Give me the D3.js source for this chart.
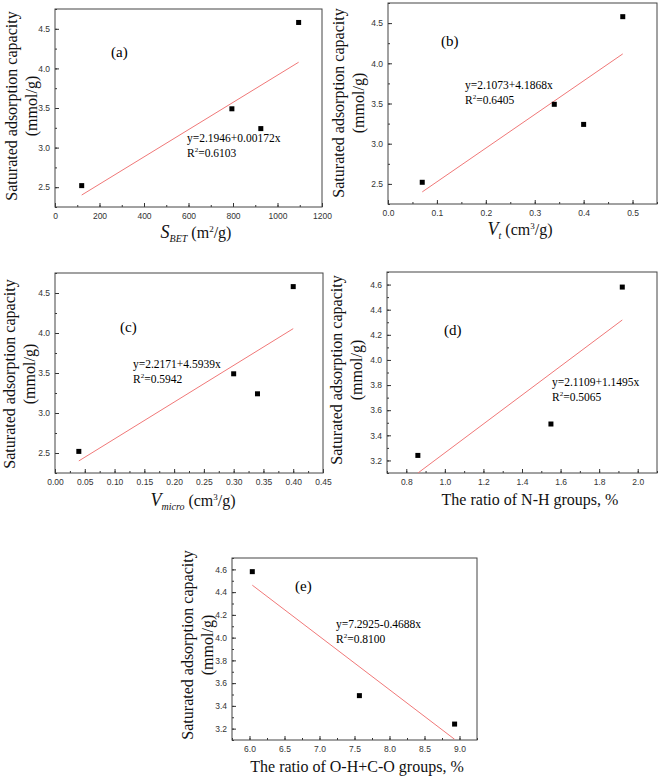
<!DOCTYPE html>
<html><head><meta charset="utf-8">
<script src="https://cdn.jsdelivr.net/npm/d3@7"></script>
<style>body{margin:0;background:#fff}svg{display:block}
.serif{font-family:"Liberation Serif","DejaVu Serif",serif}
.sans{font-family:"Liberation Sans","DejaVu Sans",sans-serif}</style>
</head><body>
<script>
// ---- data ----
const adsorption = [2.52, 3.49, 3.24, 4.58];           // saturated adsorption capacity (mmol/g)
const sBET = [120, 795, 925, 1095];                   // m2/g
const vTotal = [0.07, 0.34, 0.40, 0.48];               // cm3/g
const vMicro = [0.04, 0.30, 0.34, 0.40];               // cm3/g
const adsorptionNH = [3.24, 3.49, 4.58];
const ratioNH = [0.86, 1.55, 1.92];                    // %
const adsorptionOH = [4.58, 3.49, 3.24];
const ratioOHCO = [6.04, 7.57, 8.93];                  // %
const fitA = [2.1946, 0.00172], fitB = [2.1073, 4.1868], fitC = [2.2171, 4.5939], fitD = [2.1109, 1.1495], fitE = [7.2925, -0.4688];
const eqA = ["y=2.1946+0.00172x", "0.6103"], eqB = ["y=2.1073+4.1868x", "0.6405"], eqC = ["y=2.2171+4.5939x", "0.5942"],
      eqD = ["y=2.1109+1.1495x", "0.5065"], eqE = ["y=7.2925-0.4688x", "0.8100"];
const ticksXA = [0,200,400,600,800,1000,1200], ticksXB = [0.0,0.1,0.2,0.3,0.4,0.5],
      ticksXC = [0.00,0.05,0.10,0.15,0.20,0.25,0.30,0.35,0.40,0.45], ticksXD = [0.8,1.0,1.2,1.4,1.6,1.8,2.0],
      ticksXE = [6.0,6.5,7.0,7.5,8.0,8.5,9.0];
const ticksYABC = [2.5,3.0,3.5,4.0,4.5], ticksYDE = [3.2,3.4,3.6,3.8,4.0,4.2,4.4,4.6];

const W = 661, H = 777;
const svg = d3.select("body").append("svg").attr("width", W).attr("height", H);

function panel(c, idx) {
  const x = d3.scaleLinear().domain(c.xd).range([c.l, c.r]);
  const y = d3.scaleLinear().domain(c.yd).range([c.b, c.t]);
  const g = svg.append("g");
  const cid = "clip" + idx;
  svg.append("clipPath").attr("id", cid).append("rect")
    .attr("x", c.l).attr("y", c.t).attr("width", c.r - c.l).attr("height", c.b - c.t);

  const xMinor = d3.range(c.xd[0], c.xd[1] + 1e-9, c.xm).filter(v => v >= c.xd[0] && v <= c.xd[1]);
  const yMinor = d3.range(Math.ceil(c.yd[0] / c.ym - 1e-9) * c.ym, c.yd[1] + 1e-9, c.ym);
  const xAxis = d3.axisBottom(x).tickValues(c.xt).tickFormat(d3.format(c.xf)).tickSize(-4).tickPadding(9);
  const yAxis = d3.axisLeft(y).tickValues(c.yt).tickFormat(d3.format(c.yf)).tickSize(-4).tickPadding(5);
  const gx = g.append("g").attr("transform", `translate(0,${c.b})`).call(xAxis);
  const gy = g.append("g").attr("transform", `translate(${c.l},0)`).call(yAxis);
  [gx, gy].forEach(a => {
    a.attr("font-family", null).attr("font-size", null);
    a.select(".domain").remove();
    a.selectAll("line").attr("stroke", "#333");
    a.selectAll("text").attr("class", "sans").attr("font-size", 8.5).attr("fill", "#333");
  });
  gx.selectAll("text").attr("dy", "0.4em");
  g.append("g").attr("transform", `translate(0,${c.b})`)
    .call(d3.axisBottom(x).tickValues(xMinor).tickFormat("").tickSize(-2))
    .call(a => { a.select(".domain").remove(); a.selectAll("line").attr("stroke", "#333"); });
  g.append("g").attr("transform", `translate(${c.l},0)`)
    .call(d3.axisLeft(y).tickValues(yMinor).tickFormat("").tickSize(-2))
    .call(a => { a.select(".domain").remove(); a.selectAll("line").attr("stroke", "#333"); });

  g.append("rect").attr("x", c.l).attr("y", c.t).attr("width", c.r - c.l).attr("height", c.b - c.t)
    .attr("fill", "none").attr("stroke", "#444").attr("stroke-width", 1);

  const x0 = d3.min(c.xs), x1 = d3.max(c.xs);
  g.append("line").attr("clip-path", `url(#${cid})`)
    .attr("x1", x(x0)).attr("y1", y(c.fit[0] + c.fit[1] * x0))
    .attr("x2", x(x1)).attr("y2", y(c.fit[0] + c.fit[1] * x1))
    .attr("stroke", "#f07878").attr("stroke-width", 1);

  g.selectAll("rect.pt").data(c.xs.map((v, i) => [v, c.ys[i]])).enter().append("rect")
    .attr("class", "pt").attr("x", d => x(d[0]) - 2.5).attr("y", d => y(d[1]) - 2.5)
    .attr("width", 5).attr("height", 5).attr("fill", "#000");

  g.append("text").attr("class", "serif").attr("x", c.lab[0]).attr("y", c.lab[1]).attr("font-size", 15)
    .attr("dominant-baseline", "middle").text(c.letter);
  g.append("text").attr("class", "serif").attr("x", c.eqp[0]).attr("y", c.eqp[1]).attr("font-size", 11.5)
    .attr("dominant-baseline", "middle").text(c.eq[0]);
  const r2 = g.append("text").attr("class", "serif").attr("x", c.eqp[0]).attr("y", c.eqp[1] + 15).attr("font-size", 11.5)
    .attr("dominant-baseline", "middle");
  r2.append("tspan").text("R");
  r2.append("tspan").attr("font-size", 7).attr("dy", -4).text("2");
  r2.append("tspan").attr("dy", 4).text("=" + c.eq[1]);

  const yt = g.append("text").attr("class", "serif").attr("transform", `translate(${c.yl[0] - 2},${c.yl[1]}) rotate(-90)`)
    .attr("font-size", 16).attr("text-anchor", "middle").attr("fill", "#111");
  yt.append("tspan").attr("x", 0).attr("dy", "0.35em").text("Saturated adsorption capacity");
  yt.append("tspan").attr("x", 0).attr("dy", "1.3em").text("(mmol/g)");

  const xt = g.append("text").attr("class", "serif").attr("x", c.xl[0]).attr("y", c.xl[1])
    .attr("font-size", 16).attr("text-anchor", "middle").attr("fill", "#111");
  c.xtitle(xt);
}

const commonY = {yd: [2.25, 4.75], yt: ticksYABC, ym: 0.25, yf: ".1f"};
const deY = {yd: [3.1, 4.7], yt: ticksYDE, ym: 0.1, yf: ".1f"};

panel(Object.assign({l: 55, r: 322, t: 9, b: 207, xd: [0, 1200], xt: ticksXA, xm: 100, xf: "d",
  xs: sBET, ys: adsorption, fit: fitA, eq: eqA, letter: "(a)", lab: [111, 54], eqp: [187, 139],
  yl: [13, 106], xl: [196, 238],
  xtitle: t => {
    t.append("tspan").attr("font-style", "italic").attr("font-size", 18).text("S");
    t.append("tspan").attr("font-style", "italic").attr("font-size", 10).attr("dy", 4).text("BET");
    t.append("tspan").attr("dy", -4).text(" (m");
    t.append("tspan").attr("font-size", 9).attr("dy", -6).text("2");
    t.append("tspan").attr("dy", 6).text("/g)");
  }}, commonY), 0);

panel(Object.assign({l: 388, r: 657, t: 3, b: 204, xd: [0, 0.55], xt: ticksXB, xm: 0.05, xf: ".1f",
  xs: vTotal, ys: adsorption, fit: fitB, eq: eqB, letter: "(b)", lab: [441, 43], eqp: [465, 86],
  yl: [340, 103], xl: [520, 235],
  xtitle: t => {
    t.append("tspan").attr("font-style", "italic").attr("font-size", 18).text("V");
    t.append("tspan").attr("font-style", "italic").attr("font-size", 10).attr("dy", 4).text("t");
    t.append("tspan").attr("dy", -4).text(" (cm");
    t.append("tspan").attr("font-size", 9).attr("dy", -6).text("3");
    t.append("tspan").attr("dy", 6).text("/g)");
  }}, commonY), 1);

panel(Object.assign({l: 55, r: 323, t: 273, b: 473, xd: [0, 0.45], xt: ticksXC, xm: 0.025, xf: ".2f",
  xs: vMicro, ys: adsorption, fit: fitC, eq: eqC, letter: "(c)", lab: [120, 329], eqp: [133, 365],
  yl: [11, 374], xl: [193, 506],
  xtitle: t => {
    t.append("tspan").attr("font-style", "italic").attr("font-size", 18).text("V");
    t.append("tspan").attr("font-style", "italic").attr("font-size", 10).attr("dy", 4).text("micro");
    t.append("tspan").attr("dy", -4).text(" (cm");
    t.append("tspan").attr("font-size", 9).attr("dy", -6).text("3");
    t.append("tspan").attr("dy", 6).text("/g)");
  }}, commonY), 2);

panel(Object.assign({l: 387, r: 657, t: 272, b: 473, xd: [0.7, 2.1], xt: ticksXD, xm: 0.1, xf: ".1f",
  xs: ratioNH, ys: adsorptionNH, fit: fitD, eq: eqD, letter: "(d)", lab: [444, 332], eqp: [552, 383],
  yl: [338, 370], xl: [530, 505],
  xtitle: t => t.text("The ratio of N-H groups, %")}, deY), 3);

panel(Object.assign({l: 232, r: 477, t: 558, b: 740, xd: [5.75, 9.25], xt: ticksXE, xm: 0.25, xf: ".1f",
  xs: ratioOHCO, ys: adsorptionOH, fit: fitE, eq: eqE, letter: "(e)", lab: [295, 588], eqp: [336, 625],
  yl: [189, 645], xl: [357, 772],
  xtitle: t => t.text("The ratio of O-H+C-O groups, %")}, deY), 4);
</script>
</body></html>
